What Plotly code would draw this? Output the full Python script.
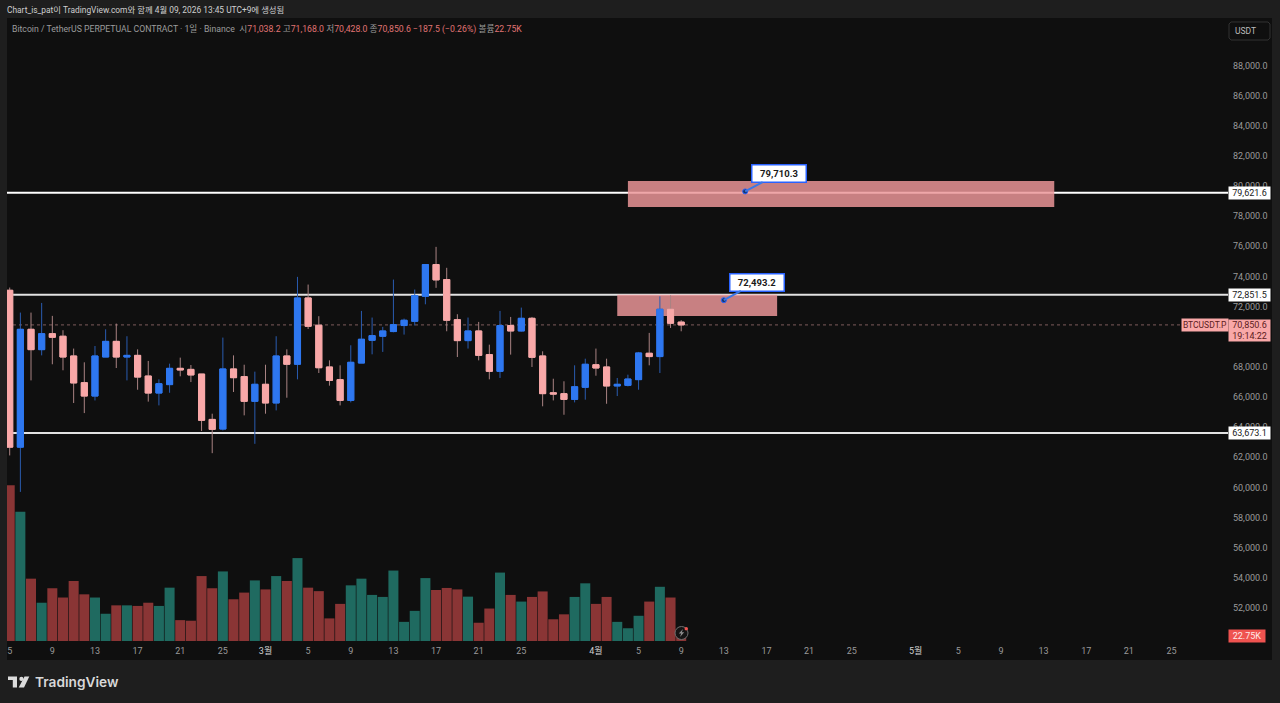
import pandas as pd
import plotly.graph_objects as go

W, H = 1280, 703
FONT = "Roboto, 'Noto Sans CJK KR', sans-serif"

# Daily BTCUSDT.P candles from 2026-02-05
start_date = "2026-02-05"
opens = [73150, 62740, 70560, 69210, 70270, 70100, 68790, 67020, 66130, 68720, 69760, 68720, 68830, 67460, 66330, 66890,
         67970, 67900, 67590, 64580, 63940, 67930, 67420, 65780, 66910, 65670, 68790, 68240, 72640, 70830, 68060, 67220,
         65840, 68320, 69830, 70100, 70410, 70810, 71090, 72750, 74860, 73860, 71200, 69810, 70450, 68880, 67770, 70810,
         70450, 71290, 68790, 66350, 66290, 65910, 66710, 68210, 68060, 66800, 66840, 67220, 68970, 68750, 71890, 71038.2]
highs = [73330, 71670, 71670, 72310, 71450, 70500, 69280, 68370, 69450, 70560, 70940, 70100, 69230, 68460, 67240, 68280,
         68680, 68190, 67590, 64960, 70010, 68830, 68210, 67750, 68210, 70100, 69230, 74040, 73530, 71430, 68500, 68170,
         69500, 71780, 71340, 70720, 73860, 71270, 73200, 74860, 76030, 74640, 71560, 71340, 71050, 69540, 71780, 71380,
         72000, 71380, 69100, 67280, 67110, 68170, 68610, 69280, 68610, 67330, 67550, 69060, 70320, 72750, 72820, 71168.0]
lows = [62190, 59770, 67170, 68830, 68240, 67840, 65670, 65000, 65840, 68720, 67990, 67170, 66550, 65760, 65510, 66350,
        67440, 67060, 63810, 62340, 63850, 66400, 64850, 62960, 64960, 65180, 66020, 67240, 70580, 67660, 66820, 65510,
        65710, 68320, 68900, 69060, 70360, 70210, 70810, 72220, 73310, 70430, 68720, 69280, 68500, 67240, 67330, 68880,
        70410, 68060, 65450, 65840, 64890, 65710, 65890, 67480, 65620, 66130, 66770, 66550, 68170, 67660, 70650, 70428.0]
closes = [62740, 70560, 69210, 70270, 70030, 68720, 67000, 66130, 68790, 69760, 68720, 68830, 67390, 66330, 66950, 67970,
          67860, 67530, 64520, 63920, 67930, 67350, 65780, 66910, 65670, 68790, 68240, 72640, 70760, 68010, 67170, 65840,
          68370, 69900, 70140, 70450, 70870, 71160, 72800, 74860, 73840, 71160, 69810, 70450, 68830, 67770, 70810, 70450,
          71290, 68700, 66290, 66260, 65910, 66750, 68240, 67990, 66800, 66910, 67260, 68990, 68750, 71890, 70960, 70850.6]
volumes_k = [537, 446, 215, 132, 182, 150, 207, 161, 150, 94, 123, 123, 121, 132, 121, 184,
             72, 70, 224, 182, 240, 144, 167, 209, 178, 224, 207, 286, 184, 172, 78, 128,
             192, 215, 159, 152, 243, 66, 104, 217, 176, 183, 178, 153, 63, 112, 236, 159,
             136, 152, 171, 75, 92, 152, 199, 128, 152, 66, 44, 87, 136, 187, 150, 22.75]

# Axis ticks
price_ticks = [52000, 54000, 56000, 58000, 60000, 62000, 64000, 66000, 68000, 70000,
               72000, 74000, 76000, 78000, 80000, 82000, 84000, 86000, 88000]
date_ticks = ["2026-02-05", "2026-02-09", "2026-02-13", "2026-02-17", "2026-02-21", "2026-02-25", "2026-03-01",
              "2026-03-05", "2026-03-09", "2026-03-13", "2026-03-17", "2026-03-21", "2026-03-25", "2026-04-01",
              "2026-04-05", "2026-04-09", "2026-04-13", "2026-04-17", "2026-04-21", "2026-04-25", "2026-05-01",
              "2026-05-05", "2026-05-09", "2026-05-13", "2026-05-17", "2026-05-21", "2026-05-25"]
MONTH = "<span style='color:#cfcfcf'>{}</span>"
date_labels = ["5", "9", "13", "17", "21", "25", MONTH.format("3월"), "5", "9", "13", "17", "21", "25", MONTH.format("4월"),
               "5", "9", "13", "17", "21", "25", MONTH.format("5월"), "5", "9", "13", "17", "21", "25"]

# Drawn levels, zones and price notes
level_prices = [79621.6, 72851.5, 63673.1]
level_colors = ["#ffffff", "#e2e2e2", "#e2e2e2"]
last_price = 70850.6
zones = [("2026-04-04", "2026-05-14", 78677, 80402), ("2026-04-03", "2026-04-18", 71444, 72850)]
note_dates = ["2026-04-15", "2026-04-13"]
note_prices = [79710.3, 72493.2]
note_offsets = [(34, -18), (33, -18)]

BG = "#1e1e1e"
PANEL = "#0f0f0f"
PINK = "#f9a8a8"
BLUE = "#2e77f0"
WICK_PINK = "#a98383"
WICK_BLUE = "#2a5cb0"
VOL_RED = "#8a3535"
VOL_GREEN = "#1f6a60"
AXIS_TEXT = "#9a9a9a"
NOTE_BLUE = "#2962ff"

dates = pd.date_range(start_date, periods=len(opens), freq="D")
vol_colors = [VOL_GREEN if c >= o else VOL_RED for o, c in zip(opens, closes)]
t0 = pd.Timestamp(start_date)
x_range = [(t0 + pd.Timedelta(days=-0.253)).isoformat(), (t0 + pd.Timedelta(days=114.3)).isoformat()]


def fx(x):
    return x / W


def fy(y):
    return 1 - y / H


def path(points):
    return "M " + " L ".join(f"{fx(x):.5f} {fy(y):.5f}" for x, y in points) + " Z"


fig = go.Figure()
fig.add_trace(go.Bar(x=dates, y=volumes_k, marker=dict(color=vol_colors, line_width=0), yaxis="y2"))
# Wicks, then solid bodies on top so the two can carry different colours
fig.add_trace(go.Candlestick(
    x=dates, open=opens, high=highs, low=lows, close=closes, whiskerwidth=0,
    increasing=dict(line=dict(color=WICK_BLUE, width=1), fillcolor=WICK_BLUE),
    decreasing=dict(line=dict(color=WICK_PINK, width=1), fillcolor=WICK_PINK),
))
fig.add_trace(go.Candlestick(
    x=dates, open=opens, close=closes,
    high=[max(o, c) for o, c in zip(opens, closes)],
    low=[min(o, c) for o, c in zip(opens, closes)],
    whiskerwidth=0,
    increasing=dict(line=dict(color=BLUE, width=1), fillcolor=BLUE),
    decreasing=dict(line=dict(color=PINK, width=1), fillcolor=PINK),
))
fig.add_trace(go.Scatter(
    x=note_dates, y=note_prices, mode="markers",
    marker=dict(size=5, color="#17386f", line=dict(color=NOTE_BLUE, width=1)),
))

shapes = []
# Chart panel
shapes.append(dict(type="rect", xref="paper", yref="paper", x0=fx(7), x1=fx(1272), y0=fy(660), y1=fy(18),
                   fillcolor=PANEL, line_width=0, layer="below"))
# Last price line and horizontal levels
shapes.append(dict(type="line", xref="paper", yref="y", x0=fx(13), x1=fx(1181), y0=last_price, y1=last_price,
                   line=dict(color="#7d5c5c", width=1, dash="dot"), layer="below"))
for p, col in zip(level_prices, level_colors):
    shapes.append(dict(type="line", xref="paper", yref="y", x0=fx(7), x1=fx(1228), y0=p, y1=p,
                       line=dict(color=col, width=2), layer="below"))
for d0, d1, p0, p1 in zones:
    shapes.append(dict(type="rect", xref="x", yref="y", x0=d0, x1=d1, y0=p0, y1=p1,
                       fillcolor="rgba(236,150,152,0.84)", line_width=0, layer="below"))
# USDT button outline
shapes.append(dict(type="path", xref="paper", yref="paper", layer="above", fillcolor="rgba(0,0,0,0)",
                   line=dict(color="#333333", width=1),
                   path=path([(1231, 22), (1268, 22), (1270, 24), (1270, 38), (1268, 40), (1231, 40), (1229, 38), (1229, 24)])))
# Logo glyph
logo_col = "#dcdcdc"
shapes.append(dict(type="path", xref="paper", yref="paper", fillcolor=logo_col, line_width=0, layer="above",
                   path=path([(8, 676.5), (17, 676.5), (17, 687.5), (12.8, 687.5), (12.8, 680), (8, 680)])))
shapes.append(dict(type="circle", xref="paper", yref="paper", x0=fx(19.3), x1=fx(23.5), y0=fy(681), y1=fy(676.8),
                   fillcolor=logo_col, line_width=0, layer="above"))
shapes.append(dict(type="path", xref="paper", yref="paper", fillcolor=logo_col, line_width=0, layer="above",
                   path=path([(24.5, 676.5), (29.3, 676.5), (24, 687.5), (18.7, 687.5)])))
# Replay badge
shapes.append(dict(type="circle", xref="paper", yref="paper", x0=fx(675), x1=fx(688), y0=fy(639.5), y1=fy(626.5),
                   fillcolor="#141414", line=dict(color="#6f6f6f", width=1), layer="above"))
shapes.append(dict(type="path", xref="paper", yref="paper", fillcolor="#8f8f8f", line_width=0, layer="above",
                   path=path([(683, 629), (678.8, 633.6), (681.2, 633.6), (680, 637), (684.2, 632.2), (681.8, 632.2)])))
shapes.append(dict(type="circle", xref="paper", yref="paper", x0=fx(684.5), x1=fx(688), y0=fy(630.5), y1=fy(627),
                   fillcolor="#ef5350", line_width=0, layer="above"))

annotations = []


def text(x, y, s, size=9, color="#c8c8c8", anchor="left", **kw):
    annotations.append(dict(xref="paper", yref="paper", x=fx(x), y=fy(y), text=s, showarrow=False,
                            xanchor=anchor, yanchor="middle", font=dict(family=FONT, size=size, color=color), **kw))


text(5, 10, "Chart_is_pat이 TradingView.com와 함께 4월 09, 2026 13:45 UTC+9에 생성됨", size=8.4, color="#cfcfcf")
g, r = "#9c9c9c", "#e07474"
header = (f"<span style='color:{g}'>Bitcoin / TetherUS PERPETUAL CONTRACT · 1일 · Binance  시</span>"
          f"<span style='color:{r}'>71,038.2</span> <span style='color:{g}'>고</span><span style='color:{r}'>71,168.0</span> "
          f"<span style='color:{g}'>저</span><span style='color:{r}'>70,428.0</span> "
          f"<span style='color:{g}'>종</span><span style='color:{r}'>70,850.6</span> "
          f"<span style='color:{r}'>−187.5 (−0.26%)</span> "
          f"<span style='color:{g}'>볼륨</span><span style='color:{r}'>22.75K</span>")
text(10, 29, header, size=8.7)
text(1245.5, 31, "USDT", size=8.5, color="#bdbdbd", anchor="center")
annotations.append(dict(xref="paper", yref="paper", x=fx(33), y=fy(682), text="TradingView", showarrow=False,
                        xanchor="left", yanchor="middle",
                        font=dict(family="Inter, sans-serif", size=13.7, color="#d8d8d8", weight=600)))

# Level tags on the price scale
for p, s in zip(level_prices, ["79,621.6", "72,851.5", "63,673.1"]):
    annotations.append(dict(xref="paper", yref="y", x=fx(1228), y=p, text=s, showarrow=False, xanchor="left",
                            yanchor="middle", width=41, height=12, bgcolor="#ffffff", borderpad=0,
                            font=dict(family=FONT, size=9, color="#1a1a1a")))
# Last price tags
text(1181, 325.5, "BTCUSDT.P", size=8.5, color="#5c2020", bgcolor=PINK, width=46, height=12, borderpad=0)
text(1228, 330.5, "70,850.6<br>19:14:22", size=9, color="#5c2020", bgcolor=PINK, width=41, height=21, borderpad=0)
# Volume tag
text(1228, 636, "22.75K", size=9, color="#ffe9e9", bgcolor="#ef5350", width=36, height=12, borderpad=0)
# Price notes
for d, p, (ax, ay) in zip(note_dates, note_prices, note_offsets):
    annotations.append(dict(xref="x", yref="y", x=d, y=p, text=f"<b>{p:,.1f}</b>", showarrow=True, arrowhead=0,
                            arrowwidth=2, arrowcolor="#3b78e7", ax=ax, ay=ay, bgcolor="#ffffff",
                            bordercolor=NOTE_BLUE, borderwidth=1.5, borderpad=2, width=49, height=12,
                            font=dict(family=FONT, size=9.5, color="#1a1a1a")))

fig.update_layout(
    width=W, height=H, autosize=False, margin=dict(l=0, r=0, t=0, b=0),
    paper_bgcolor=BG, plot_bgcolor=PANEL, showlegend=False, boxgap=0.18, bargap=0.06,
    shapes=shapes, annotations=annotations,
    xaxis=dict(domain=[fx(7), fx(1228)], type="date", range=x_range, rangeslider=dict(visible=False),
               showgrid=False, zeroline=False, showline=False, ticks="",
               tickmode="array", tickvals=date_ticks, ticktext=date_labels, tickangle=0, ticklabelstandoff=3,
               tickfont=dict(family=FONT, size=9, color=AXIS_TEXT)),
    yaxis=dict(domain=[fy(641), fy(18)], range=[49876, 91218], side="right", showgrid=False, zeroline=False,
               showline=False, ticks="", tickmode="array", tickvals=price_ticks, tickformat=",.1f",
               ticklabelstandoff=4, ticklabelshift=-1, tickfont=dict(family=FONT, size=9, color=AXIS_TEXT)),
    yaxis2=dict(domain=[fy(641), fy(18)], range=[0, 2149], overlaying="y", side="left", visible=False),
)

fig.write_html("out.html")
